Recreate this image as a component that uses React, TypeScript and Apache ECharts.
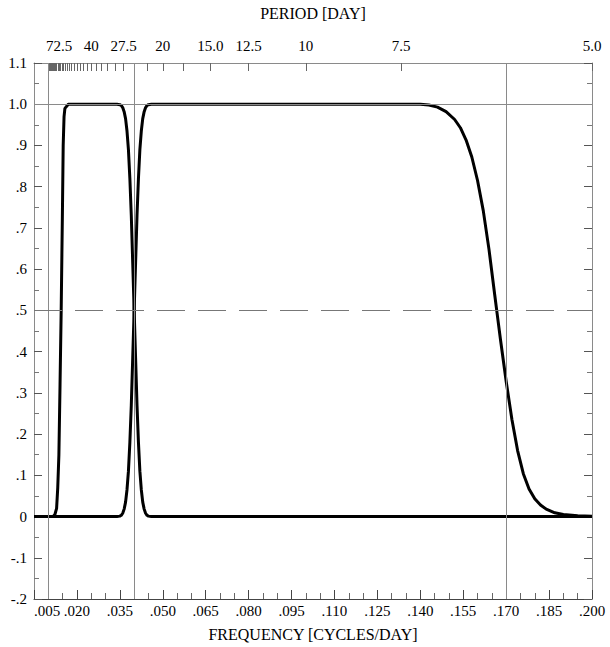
import React, { useEffect, useRef } from "react";
import * as echarts from "echarts";

// ---- data ----
const X_MIN = 0.005;
const X_MAX = 0.2;
const X_STEP = 0.015;
const Y_MIN = -0.2;
const Y_MAX = 1.1;
const Y_STEP = 0.1;

// Band 1: ~72.5 day to ~25 day pass band
const band1Freq = [
  0.005, 0.0117, 0.0123, 0.0129, 0.0133, 0.0137, 0.0141, 0.0145, 0.0149, 0.0152, 0.0155, 0.0158, 0.017,
  0.03, 0.034, 0.035, 0.0355, 0.036, 0.0365, 0.037, 0.0375, 0.038, 0.0385, 0.039, 0.0395, 0.04,
  0.0405, 0.041, 0.0415, 0.042, 0.0425, 0.043, 0.0435, 0.044, 0.0445, 0.045, 0.046, 0.1, 0.2,
];
const band1Gain = [
  0, 0, 0.005, 0.02, 0.07, 0.15, 0.32, 0.5, 0.72, 0.9, 0.97, 0.99, 1.0,
  1.0, 1.0, 0.999, 0.997, 0.992, 0.982, 0.965, 0.935, 0.89, 0.82, 0.73, 0.615, 0.5,
  0.385, 0.27, 0.18, 0.11, 0.065, 0.035, 0.018, 0.008, 0.003, 0.001, 0, 0, 0,
];

// Band 2: ~25 day to ~6 day pass band
const band2Freq = [
  0.005, 0.034, 0.035, 0.0355, 0.036, 0.0365, 0.037, 0.0375, 0.038, 0.0385, 0.039, 0.0395, 0.04,
  0.0405, 0.041, 0.0415, 0.042, 0.0425, 0.043, 0.0435, 0.044, 0.0445, 0.045, 0.046, 0.1,
  0.14, 0.143, 0.146, 0.149, 0.152, 0.154, 0.156, 0.158, 0.16, 0.162, 0.164, 0.166, 0.1667,
  0.168, 0.17, 0.172, 0.174, 0.176, 0.178, 0.18, 0.182, 0.184, 0.187, 0.19, 0.195, 0.2,
];
const band2Gain = [
  0, 0, 0.001, 0.003, 0.008, 0.018, 0.035, 0.065, 0.11, 0.18, 0.27, 0.385, 0.5,
  0.615, 0.73, 0.82, 0.89, 0.935, 0.965, 0.982, 0.992, 0.997, 0.999, 1.0, 1.0,
  1.0, 0.998, 0.993, 0.982, 0.963, 0.943, 0.913, 0.872, 0.815, 0.742, 0.648, 0.538, 0.5,
  0.43, 0.328, 0.236, 0.16, 0.104, 0.067, 0.043, 0.028, 0.018, 0.009, 0.005, 0.002, 0.001,
];

// Reference lines
const cutoffFreqs = [0.0144, 0.04, 0.16667];
const unityLevel = 1.0;
const halfLevel = 0.5;

// Top (period) axis
const periodLabelDays = [72.5, 40, 27.5, 20, 15, 12.5, 10, 7.5, 5];
const periodLabelText = ["72.5", "40", "27.5", "20", "15.0", "12.5", "10", "7.5", "5.0"];
const periodTickDays = [
  5, 7.5, 10, 12.5, 15, 17.5, 20, 22.5, 25, 27.5, 30, 32.5, 35, 37.5, 40, 42.5, 45, 47.5, 50,
  52.5, 55, 57.5, 60, 62.5, 65, 67.5, 70, 72.5, 75, 77.5, 80, 82.5, 85, 87.5, 90, 92.5, 95, 97.5, 100,
];

const FONT = "'Liberation Serif', 'Times New Roman', serif";

function fmtDec(v: number, digits: number) {
  const r = Math.round(v * Math.pow(10, digits)) / Math.pow(10, digits);
  if (Math.abs(r) < 1e-9) return "0";
  let s = r.toFixed(digits);
  s = s.replace(/^(-?)0\./, "$1.");
  return s;
}

export default function App() {
  const ref = useRef<HTMLDivElement>(null);
  useEffect(() => {
    if (!ref.current) return;
    const chart = echarts.init(ref.current, undefined, { renderer: "svg" });
    const band1 = band1Freq.map((f, i) => [f, band1Gain[i]]);
    const band2 = band2Freq.map((f, i) => [f, band2Gain[i]]);
    const periodLabelFreq = periodLabelDays.map((p) => 1 / p);
    const periodTickFreq = periodTickDays.map((p) => 1 / p);

    const grey = "#8a8a8a";
    const text = { fontFamily: FONT, fontSize: 15, color: "#000" };
    const title = { fontFamily: FONT, fontSize: 16, color: "#000" };

    chart.setOption({
      animation: false,
      grid: { left: 34, right: 18, top: 50, bottom: 41, containLabel: false },
      xAxis: [
        {
          type: "value",
          position: "bottom",
          min: X_MIN,
          max: X_MAX,
          interval: X_STEP,
          name: "FREQUENCY [CYCLES/DAY]",
          nameLocation: "middle",
          nameGap: 27,
          nameTextStyle: { ...title },
          axisLine: { show: true, onZero: false, lineStyle: { color: "#444", width: 1 } },
          axisTick: { show: true, inside: true, length: 9, lineStyle: { color: "#444" } },
          minorTick: { show: true, splitNumber: 3, length: 6, lineStyle: { color: "#666" } },
          splitLine: { show: false },
          axisLabel: {
            ...text,
            margin: 4,
            formatter: (v: number) => fmtDec(v, 3),
            showMinLabel: true,
            showMaxLabel: true,
            alignMinLabel: "left",
          },
        },
        {
          type: "value",
          position: "top",
          min: X_MIN,
          max: X_MAX,
          name: "PERIOD [DAY]",
          nameLocation: "middle",
          nameGap: 42,
          nameTextStyle: { ...title },
          axisLine: { show: true, onZero: false, lineStyle: { color: grey, width: 1 } },
          axisTick: {
            show: true,
            inside: true,
            length: 8,
            customValues: periodTickFreq,
            lineStyle: { color: "#666" },
          },
          splitLine: { show: false },
          axisLabel: {
            ...text,
            margin: 10,
            customValues: periodLabelFreq,
            formatter: (v: number) => {
              let best = 0;
              for (let i = 0; i < periodLabelFreq.length; i++) {
                if (Math.abs(periodLabelFreq[i] - v) < Math.abs(periodLabelFreq[best] - v)) best = i;
              }
              return periodLabelText[best];
            },
          },
        },
      ],
      yAxis: [
        {
          type: "value",
          position: "left",
          min: Y_MIN,
          max: Y_MAX,
          interval: Y_STEP,
          axisLine: { show: true, onZero: false, lineStyle: { color: grey, width: 1 } },
          axisTick: { show: true, inside: true, length: 8, lineStyle: { color: "#555" } },
          minorTick: { show: true, splitNumber: 2, length: 5, lineStyle: { color: "#777" } },
          splitLine: { show: false },
          axisLabel: {
            ...text,
            margin: 7,
            formatter: (v: number) => fmtDec(v, 1).replace(/^1$/, "1.0").replace(/^(-?)\.0$/, "0"),
          },
        },
        {
          type: "value",
          position: "right",
          min: Y_MIN,
          max: Y_MAX,
          interval: Y_STEP,
          axisLine: { show: true, onZero: false, lineStyle: { color: grey, width: 1 } },
          axisTick: { show: true, inside: true, length: 8, lineStyle: { color: "#555" } },
          minorTick: { show: true, splitNumber: 2, length: 5, lineStyle: { color: "#777" } },
          splitLine: { show: false },
          axisLabel: { show: false },
        },
      ],
      series: [
        {
          type: "line",
          data: [],
          silent: true,
          z: 1,
          markLine: {
            silent: true,
            symbol: "none",
            label: { show: false },
            animation: false,
            data: [
              ...cutoffFreqs.map((f) => ({ xAxis: f, lineStyle: { color: grey, width: 1, type: "solid" } })),
              { yAxis: unityLevel, lineStyle: { color: grey, width: 1, type: "solid" } },
              { yAxis: halfLevel, lineStyle: { color: "#777", width: 1, type: [28, 13] } },
            ],
          },
        },
        {
          type: "line",
          data: band1,
          showSymbol: false,
          z: 3,
          lineStyle: { color: "#000", width: 3, join: "round" },
          silent: true,
        },
        {
          type: "line",
          data: band2,
          showSymbol: false,
          z: 3,
          lineStyle: { color: "#000", width: 3, join: "round" },
          silent: true,
        },
      ],
    });
    return () => chart.dispose();
  }, []);

  return (
    <div
      ref={ref}
      style={{ width: 610, height: 647, position: "absolute", left: 0, top: 0, background: "#fff" }}
    />
  );
}
